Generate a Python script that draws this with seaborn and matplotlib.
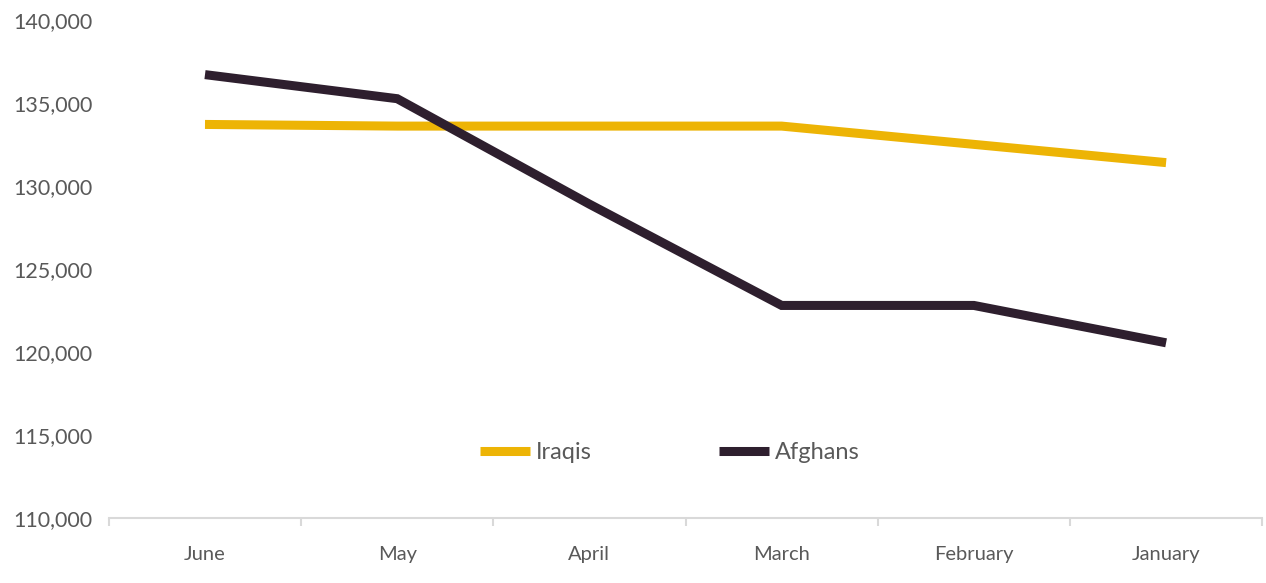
import matplotlib
matplotlib.use("Agg")
import matplotlib.pyplot as plt
import seaborn as sns
import pandas as pd
from matplotlib.ticker import FuncFormatter

months = ["June", "May", "April", "March", "February", "January"]
iraqis = [133700, 133600, 133600, 133600, 132500, 131400]
afghans = [136700, 135250, 128900, 122800, 122800, 120550]
series_names = ["Iraqis", "Afghans"]
colors = {"Iraqis": "#EDB405", "Afghans": "#2E1F2E"}

df = pd.DataFrame({
    "month": months * 2,
    "pos": list(range(len(months))) * 2,
    "value": iraqis + afghans,
    "series": ["Iraqis"] * len(months) + ["Afghans"] * len(months),
})

sns.set_style("white")
plt.rcParams["font.family"] = ["Lato", "DejaVu Sans"]

fig = plt.figure(figsize=(12.66, 5.83), dpi=100)
ax = fig.add_axes([0.086, 0.1115, 0.911, 0.8545])

sns.lineplot(data=df, x="pos", y="value", hue="series", hue_order=series_names,
             palette=colors, linewidth=6.5, ax=ax, sort=False, legend=True,
             solid_capstyle="butt", solid_joinstyle="miter")

ax.set_xlim(-0.5, len(months) - 0.5)
ax.set_ylim(110000, 140000)
ax.set_yticks(range(110000, 140001, 5000))
ax.yaxis.set_major_formatter(FuncFormatter(lambda v, p: f"{int(v):,}"))
ax.set_xticks(range(len(months)))
ax.set_xticklabels(months)
ax.set_xticks([i - 0.5 for i in range(len(months) + 1)], minor=True)
ax.set_xlabel("")
ax.set_ylabel("")

for s in ["top", "right", "left"]:
    ax.spines[s].set_visible(False)
ax.spines["bottom"].set_color("#D9D9D9")
ax.spines["bottom"].set_linewidth(1.5)

ax.tick_params(axis="y", left=False, length=0, labelsize=15.5, labelcolor="#595959", pad=12)
ax.tick_params(axis="x", which="major", bottom=False, length=0, labelsize=14.5, labelcolor="#595959", pad=20)
ax.tick_params(axis="x", which="minor", bottom=True, length=6, width=1.5, color="#D9D9D9", direction="out")

handles, labels = ax.get_legend_handles_labels()
for h in handles:
    h.set_solid_capstyle("butt")
leg = ax.legend(handles, labels, loc="center", bbox_to_anchor=(0.529, 0.223),
                bbox_transform=fig.transFigure, ncol=2, frameon=False,
                fontsize=17, handlelength=2.1, handletextpad=0.25, columnspacing=5.4)
for t in leg.get_texts():
    t.set_color("#595959")
for h in leg.legend_handles:
    h.set_solid_capstyle("butt")

fig.savefig("out.png", dpi=100)
